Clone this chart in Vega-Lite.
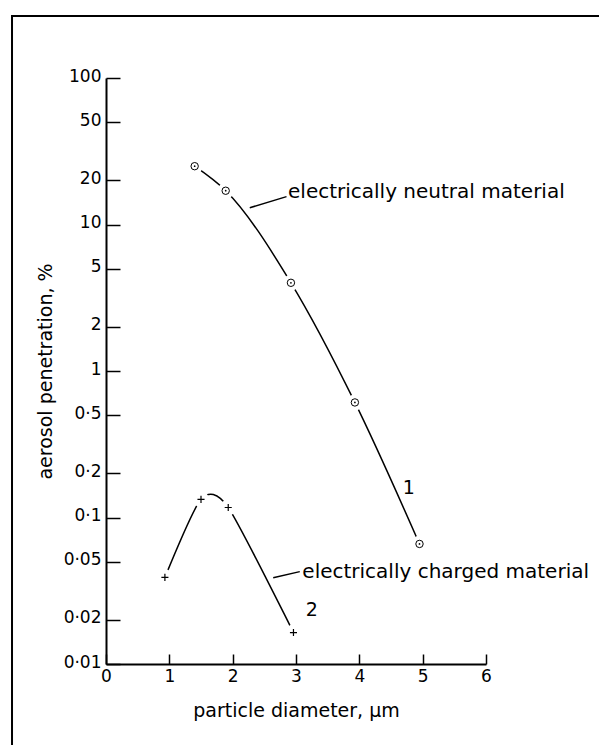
{
  "$schema": "https://vega.github.io/schema/vega-lite/v6.json",
  "width": 380,
  "height": 586,
  "padding": {"left": 11, "top": 14, "right": 0, "bottom": 0},
  "background": "white",
  "config": {
    "view": {"stroke": null},
    "font": "DejaVu Sans",
    "axis": {
      "grid": false,
      "domainColor": "black",
      "domainWidth": 2,
      "tickColor": "black",
      "tickWidth": 1.5,
      "labelColor": "black",
      "titleColor": "black",
      "labelFont": "DejaVu Sans",
      "titleFont": "DejaVu Sans",
      "labelFontSize": 17,
      "titleFontSize": 19,
      "titleFontWeight": "normal"
    }
  },
  "datasets": {
    "points": [
      {"diameter": 1.4, "penetration": 25, "material": "neutral"},
      {"diameter": 1.89, "penetration": 17, "material": "neutral"},
      {"diameter": 2.92, "penetration": 4.0, "material": "neutral"},
      {"diameter": 3.93, "penetration": 0.61, "material": "neutral"},
      {"diameter": 4.95, "penetration": 0.066, "material": "neutral"},
      {"diameter": 0.93, "penetration": 0.039, "material": "charged"},
      {"diameter": 1.5, "penetration": 0.133, "material": "charged"},
      {"diameter": 1.93, "penetration": 0.117, "material": "charged"},
      {"diameter": 2.96, "penetration": 0.0164, "material": "charged"}
    ],
    "leaders": [
      {"x": 2.27, "y": 13.0, "x2": 2.85, "y2": 15.5},
      {"x": 2.64, "y": 0.0388, "x2": 3.06, "y2": 0.0427}
    ],
    "notes": [
      {"x": 2.874, "y": 15.1, "text": "electrically neutral material", "align": "left"},
      {"x": 3.1, "y": 0.0388, "text": "electrically charged material", "align": "left"},
      {"x": 4.78, "y": 0.1446, "text": "1", "align": "center"},
      {"x": 3.25, "y": 0.0213, "text": "2", "align": "center"}
    ]
  },
  "layer": [
    {
      "description": "figure frame",
      "data": {"values": [{}]},
      "mark": {"type": "rect", "filled": false, "stroke": "black", "strokeWidth": 2},
      "encoding": {
        "x": {"datum": -1.484, "type": "quantitative", "scale": {"domain": [0, 6]}},
        "x2": {"datum": 8},
        "y": {"datum": 265, "type": "quantitative", "scale": {"type": "log", "domain": [0.01, 100]}},
        "y2": {"datum": 0.002}
      }
    },
    {
      "data": {"name": "points"},
      "transform": [{"filter": "datum.material === 'neutral'"}],
      "mark": {"type": "line", "color": "black", "strokeWidth": 1.5, "interpolate": "monotone"},
      "encoding": {
        "x": {
          "field": "diameter", "type": "quantitative",
          "scale": {"domain": [0, 6], "nice": false, "zero": false},
          "axis": {
            "title": "particle diameter, μm",
            "values": [0, 1, 2, 3, 4, 5, 6],
            "format": "d",
            "tickSize": -10,
            "labelPadding": 14,
            "titlePadding": 17,
            "labelFlush": false
          }
        },
        "y": {
          "field": "penetration", "type": "quantitative",
          "scale": {"type": "log", "domain": [0.01, 100], "nice": false},
          "axis": {
            "title": "aerosol penetration, %",
            "values": [0.01, 0.02, 0.05, 0.1, 0.2, 0.5, 1, 2, 5, 10, 20, 50, 100],
            "labelExpr": "replace(datum.value + '', '.', '·')",
            "tickSize": -14,
            "labelPadding": 19,
            "labelOffset": -2,
            "titlePadding": 8,
            "labelFlush": false
          }
        }
      }
    },
    {
      "data": {"name": "points"},
      "transform": [{"filter": "datum.material === 'charged'"}],
      "mark": {"type": "line", "color": "black", "strokeWidth": 1.5, "interpolate": "cardinal", "tension": 0.3},
      "encoding": {
        "x": {"field": "diameter", "type": "quantitative"},
        "y": {"field": "penetration", "type": "quantitative"}
      }
    },
    {
      "description": "white gaps where the curves meet the markers",
      "data": {"name": "points"},
      "mark": {"type": "point", "shape": "circle", "filled": true, "color": "white", "opacity": 1, "size": 260},
      "encoding": {
        "x": {"field": "diameter", "type": "quantitative"},
        "y": {"field": "penetration", "type": "quantitative"}
      }
    },
    {
      "data": {"name": "points"},
      "transform": [{"filter": "datum.material === 'neutral'"}],
      "mark": {"type": "point", "shape": "circle", "filled": false, "stroke": "black", "strokeWidth": 1, "opacity": 1, "size": 55},
      "encoding": {
        "x": {"field": "diameter", "type": "quantitative"},
        "y": {"field": "penetration", "type": "quantitative"}
      }
    },
    {
      "data": {"name": "points"},
      "transform": [{"filter": "datum.material === 'neutral'"}],
      "mark": {"type": "point", "shape": "circle", "filled": true, "color": "black", "opacity": 1, "size": 3},
      "encoding": {
        "x": {"field": "diameter", "type": "quantitative"},
        "y": {"field": "penetration", "type": "quantitative"}
      }
    },
    {
      "data": {"name": "points"},
      "transform": [{"filter": "datum.material === 'charged'"}],
      "mark": {"type": "point", "shape": "M-1,0H1M0,-1V1", "filled": false, "stroke": "black", "strokeWidth": 1.2, "opacity": 1, "size": 50},
      "encoding": {
        "x": {"field": "diameter", "type": "quantitative"},
        "y": {"field": "penetration", "type": "quantitative"}
      }
    },
    {
      "data": {"name": "leaders"},
      "mark": {"type": "rule", "color": "black", "strokeWidth": 1.5},
      "encoding": {
        "x": {"field": "x", "type": "quantitative"},
        "y": {"field": "y", "type": "quantitative"},
        "x2": {"field": "x2"},
        "y2": {"field": "y2"}
      }
    },
    {
      "data": {"name": "notes"},
      "transform": [{"filter": "datum.align === 'left'"}],
      "mark": {"type": "text", "align": "left", "baseline": "alphabetic", "fontSize": 20, "color": "black", "font": "DejaVu Sans"},
      "encoding": {
        "x": {"field": "x", "type": "quantitative"},
        "y": {"field": "y", "type": "quantitative"},
        "text": {"field": "text"}
      }
    },
    {
      "data": {"name": "notes"},
      "transform": [{"filter": "datum.align === 'center'"}],
      "mark": {"type": "text", "align": "center", "baseline": "alphabetic", "fontSize": 19, "color": "black", "font": "DejaVu Sans"},
      "encoding": {
        "x": {"field": "x", "type": "quantitative"},
        "y": {"field": "y", "type": "quantitative"},
        "text": {"field": "text"}
      }
    }
  ]
}
